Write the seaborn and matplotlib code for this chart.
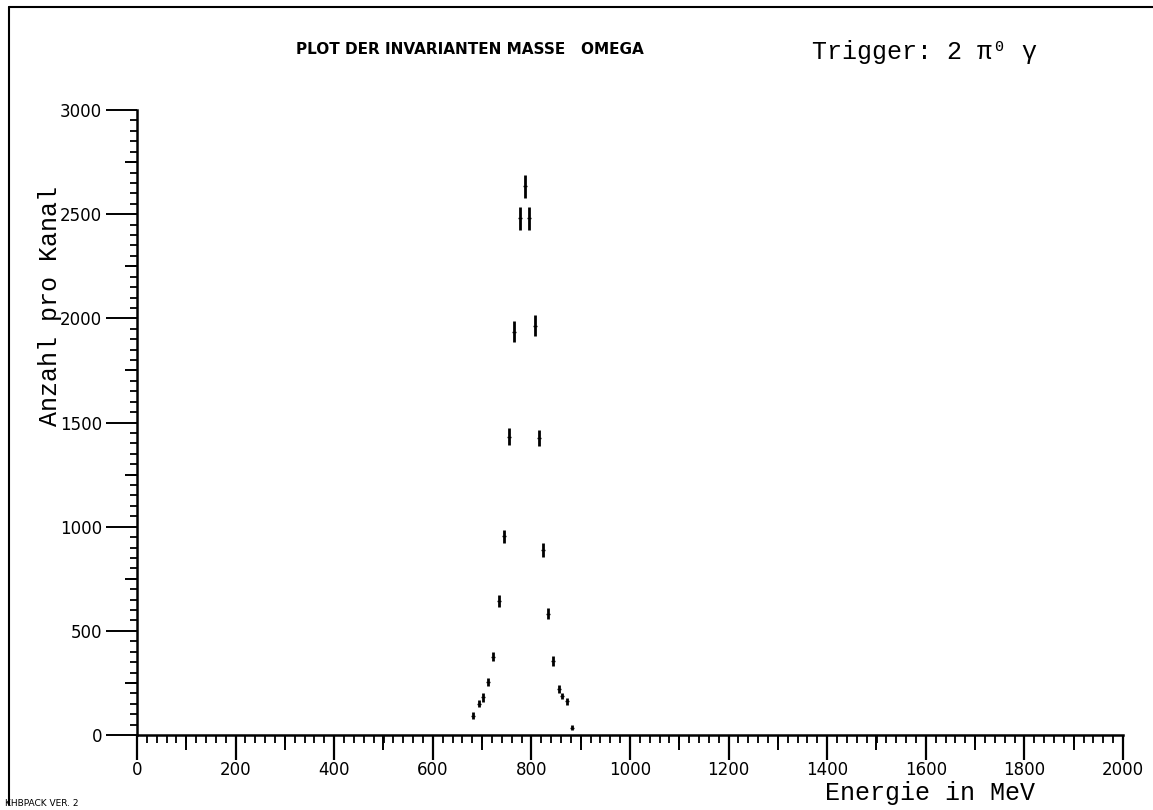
import matplotlib
matplotlib.use("Agg")
import matplotlib.pyplot as plt
from matplotlib.ticker import MultipleLocator, FixedLocator, NullFormatter
import seaborn as sns
import pandas as pd
import numpy as np

# ---- data ----
energy = [682, 694, 702, 711, 722, 734, 744, 755, 764, 777, 787,
          796, 807, 816, 823, 834, 843, 855, 863, 872, 883]
counts = [92, 151, 181, 253, 375, 643, 953, 1432, 1935, 2480, 2635,
          2480, 1965, 1424, 888, 583, 357, 221, 189, 161, 35]
errors = [17, 16, 21, 20, 22, 28, 33, 42, 50, 56, 55,
          56, 50, 38, 35, 28, 24, 19, 15, 19, 11]

x_ticks = [0, 200, 400, 600, 800, 1000, 1200, 1400, 1600, 1800, 2000]
y_ticks = [0, 500, 1000, 1500, 2000, 2500, 3000]

title_left = "PLOT DER INVARIANTEN MASSE   OMEGA"
title_right = "Trigger: 2 \u03c0\u2070 \u03b3"
x_label = "Energie in MeV"
y_label = "Anzahl pro Kanal"
footer = "KHBPACK VER. 2"

df = pd.DataFrame({"energy": energy, "counts": counts, "err": errors})

sns.set_theme(style="white")
plt.rcParams["font.family"] = ["DejaVu Sans"]
mono = ["Liberation Mono", "DejaVu Sans Mono"]

fig = plt.figure(figsize=(11.53, 8.10), dpi=100)
ax = fig.add_axes([137/1153, 1 - 735/810, (1123 - 137)/1153, (735 - 110)/810])

# error bars as vertical segments
ax.vlines(df["energy"], df["counts"] - df["err"], df["counts"] + df["err"],
          color="black", linewidth=2.0)
sns.scatterplot(data=df, x="energy", y="counts", marker="_", s=8,
                color="black", linewidth=1.0, ax=ax, legend=False)

ax.set_xlim(0, 2000)
ax.set_ylim(0, 3000)
ax.set_xlabel("")
ax.set_ylabel("")

for s in ["top", "right"]:
    ax.spines[s].set_visible(False)
for s in ["left", "bottom"]:
    ax.spines[s].set_color("black")
    ax.spines[s].set_linewidth(1.8)

ax.xaxis.set_major_locator(FixedLocator(x_ticks))
ax.xaxis.set_minor_locator(MultipleLocator(20))
ax.yaxis.set_major_locator(FixedLocator(y_ticks))
ax.yaxis.set_minor_locator(MultipleLocator(50))
ax.set_xticklabels([str(v) for v in x_ticks])
ax.set_yticklabels([str(v) for v in y_ticks])

ax.tick_params(axis="x", which="major", direction="out", length=18, width=1.6,
               color="black", labelcolor="black", labelsize=12, pad=1, bottom=True)
ax.tick_params(axis="x", which="minor", direction="out", length=6, width=1.3,
               color="black", bottom=True)
ax.tick_params(axis="y", which="major", direction="out", length=22, width=1.4,
               color="black", labelcolor="black", labelsize=12, pad=3, left=True)
ax.tick_params(axis="y", which="minor", direction="out", length=5, width=1.3,
               color="black", left=True)

# medium ticks at the half-steps
secx = ax.secondary_xaxis("bottom")
secx.set_xticks([100, 300, 500, 700, 900, 1100, 1300, 1500, 1700, 1900])
secx.xaxis.set_major_formatter(NullFormatter())
secx.tick_params(direction="out", length=11, width=1.4, color="black")
secx.spines["bottom"].set_visible(False)

secy = ax.secondary_yaxis("left")
secy.set_yticks([250, 750, 1250, 1750, 2250, 2750])
secy.yaxis.set_major_formatter(NullFormatter())
secy.tick_params(direction="out", length=9, width=1.4, color="black")
secy.spines["left"].set_visible(False)

# texts
fig.text(470/1153, 1 - 50/810, title_left, ha="center", va="center",
         fontsize=11, color="black", family=["DejaVu Sans"], fontweight="bold")
fig.text(925/1153, 1 - 52/810, title_right, ha="center", va="center",
         fontsize=18, color="black", family=mono)
fig.text(930/1153, 1 - 793/810, x_label, ha="center", va="center",
         fontsize=18, color="black", family=mono)
fig.text(50/1153, 1 - 306/810, y_label, ha="center", va="center",
         rotation=90, fontsize=18, color="black", family=mono)
fig.text(5/1153, 1 - 803/810, footer, ha="left", va="center",
         fontsize=6.5, color="black", family=["DejaVu Sans"])

# scanned page frame (left and top edges)
fig.add_artist(plt.Line2D([9/1153, 9/1153], [1 - 805/810, 1 - 7/810],
                          transform=fig.transFigure, color="black", linewidth=1.5))
fig.add_artist(plt.Line2D([9/1153, 1], [1 - 7/810, 1 - 7/810],
                          transform=fig.transFigure, color="black", linewidth=1.5))

fig.savefig("out.png", dpi=100)
